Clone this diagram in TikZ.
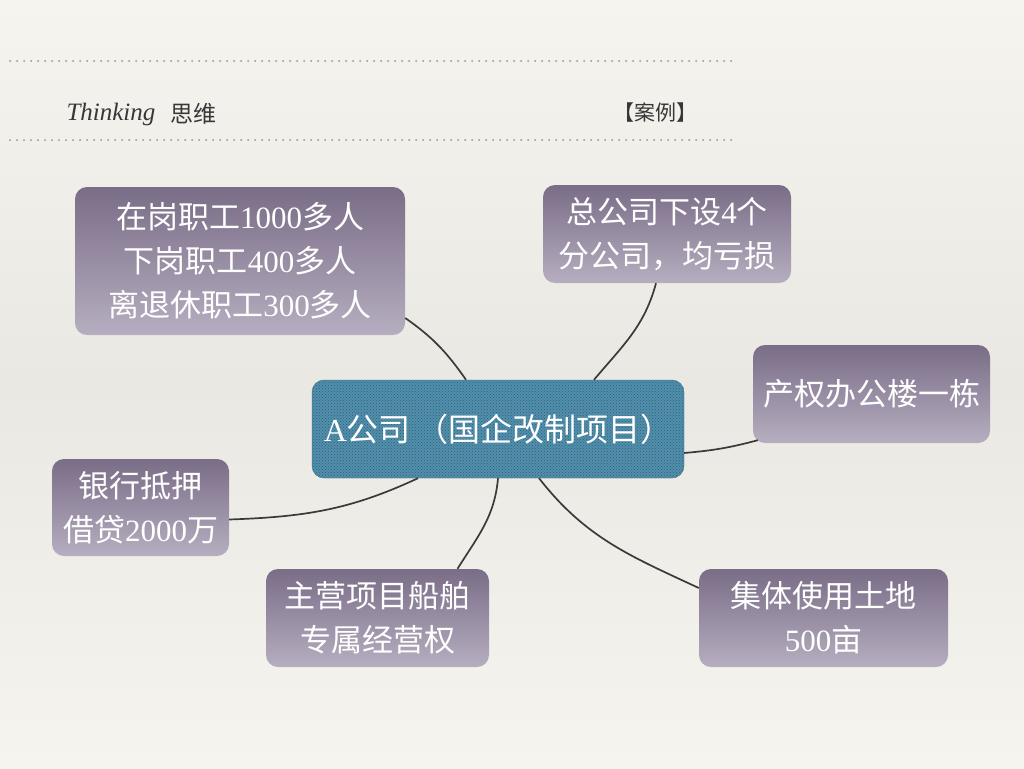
\documentclass[tikz,border=0pt]{standalone}
\usepackage{fontspec}
\setmainfont{Liberation Serif}
\newfontfamily\cjk{Noto Sans CJK SC}
\usetikzlibrary{patterns}

\definecolor{paper}{RGB}{246,244,239}
\definecolor{papermid}{RGB}{234,232,227}
\definecolor{boxtop}{RGB}{122,109,135}
\definecolor{boxbot}{RGB}{182,174,192}
\definecolor{ctrblue}{RGB}{80,143,173}
\definecolor{linkgray}{RGB}{60,58,56}
\definecolor{headgray}{RGB}{55,55,55}

\tikzset{
  leaf/.style={rounded corners=12pt, top color=boxtop, bottom color=boxbot,
    draw=none, text=white, align=center, inner sep=0pt,
    font=\fontsize{31}{44}\selectfont},
  hub/.style={rounded corners=12pt, fill=ctrblue, draw=ctrblue!80!black,
    postaction={pattern=crosshatch dots, pattern color=ctrblue!65!black},
    text=white, align=center, inner sep=0pt, font=\fontsize{32}{40}\selectfont},
  link/.style={draw=linkgray, line width=1.7pt},
  dotline/.style={draw=gray!85, line width=2pt, line cap=round,
    dash pattern=on 0pt off 7pt}
}

\begin{document}
\begin{tikzpicture}[x=1pt, y=-1pt]
  % --- page ---
  \shade[top color=paper, bottom color=paper, middle color=papermid] (0,0) rectangle (1024,768);
  \useasboundingbox (0,0) rectangle (1024,768);

  % --- header ---
  \draw[dotline] (10,61) -- (732,61);
  \draw[dotline] (10,140) -- (732,140);
  \node[anchor=west, text=headgray, font=\fontsize{25}{26}\selectfont\itshape] (think) at (63,114) {Thinking};
  \node[anchor=west, text=headgray, font=\fontsize{23}{26}\selectfont\cjk] (siwei) at ([xshift=8pt]think.east) {思维};
  \node[anchor=east, text=headgray, font=\fontsize{21}{26}\selectfont\cjk] (anli) at (701,113) {【案例】};

  % --- centre ---
  \node[hub, minimum width=372pt, minimum height=98pt] (ctr) at (498,429)
    {A{\cjk 公司\,（国企改制项目）}};

  % --- leaves ---
  \node[leaf, minimum width=330pt, minimum height=148pt] (staff) at (240,261)
    {{\cjk 在岗职工}1000{\cjk 多人}\\{\cjk 下岗职工}400{\cjk 多人}\\{\cjk 离退休职工}300{\cjk 多人}};
  \node[leaf, minimum width=248pt, minimum height=98pt] (branch) at (667,234)
    {{\cjk 总公司下设}4{\cjk 个}\\{\cjk 分公司，均亏损}};
  \node[leaf, minimum width=237pt, minimum height=98pt] (office) at (871.5,394)
    {{\cjk 产权办公楼一栋}};
  \node[leaf, minimum width=177pt, minimum height=97pt] (loan) at (140.5,507.5)
    {{\cjk 银行抵押}\\{\cjk 借贷}2000{\cjk 万}};
  \node[leaf, minimum width=223pt, minimum height=98pt] (ship) at (377.5,618)
    {{\cjk 主营项目船舶}\\{\cjk 专属经营权}};
  \node[leaf, minimum width=249pt, minimum height=98pt] (land) at (823.5,618)
    {{\cjk 集体使用土地}\\500{\cjk 亩}};

  % --- links ---
  \draw[link] ([yshift=-57pt]staff.east) to[out=-35, in=125] ([xshift=-32pt]ctr.north);
  \draw[link] ([xshift=-11pt]branch.south) to[out=-105, in=50] ([xshift=96pt]ctr.north);
  \draw[link] ([xshift=5pt, yshift=3pt]office.south west) to[out=195, in=5] ([yshift=-24pt]ctr.east);
  \draw[link] ([yshift=-12pt]loan.east) to[out=2, in=-155] ([xshift=-80pt]ctr.south);
  \draw[link] ([xshift=80pt]ship.north) to[out=58, in=-95] (ctr.south);
  \draw[link] ([yshift=30pt]land.west) to[out=155, in=-52] ([xshift=41pt]ctr.south);
\end{tikzpicture}
\end{document}
